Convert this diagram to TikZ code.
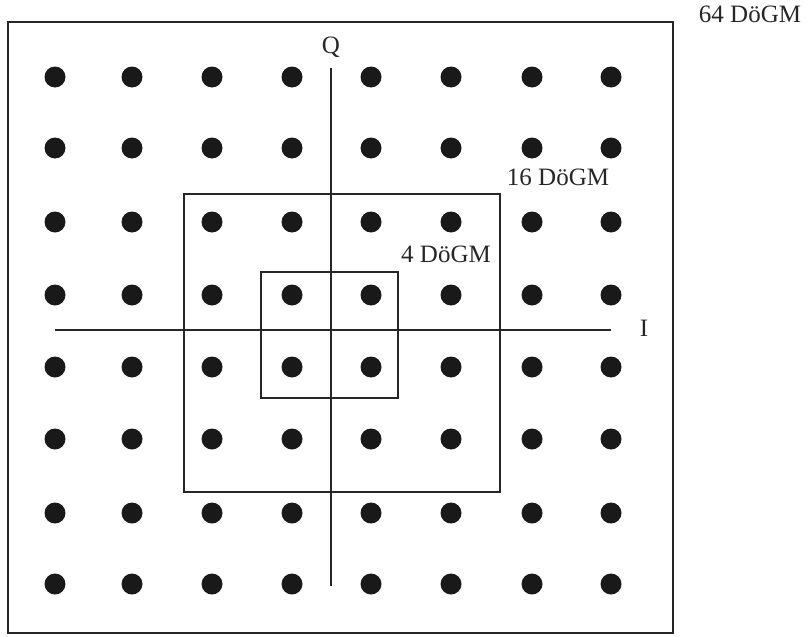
\documentclass[tikz,border=0pt]{standalone}
\usepackage{fontspec}
\setmainfont{Liberation Serif}
\begin{document}
\begin{tikzpicture}[x=1pt,y=-1pt,
  frame/.style={draw=black!85,line width=2pt},
  axis/.style={draw=black!85,line width=2pt},
  dot/.style={circle,fill=black!90,inner sep=0pt,minimum size=21pt},
  lbl/.style={inner sep=0pt,text=black!85,font=\fontsize{25}{28}\selectfont}]
\useasboundingbox (0,0) rectangle (811,637);
% boxes
\draw[frame] (8,22) rectangle (673,633);
\draw[frame] (184,194) rectangle (500,492);
\draw[frame] (261,272) rectangle (398,398);
% axes
\coordinate (qtop) at (331,68);
\coordinate (qbot) at (331,586);
\coordinate (ileft) at (55,330);
\coordinate (iright) at (611,330);
\draw[axis] (qtop) -- (qbot);
\draw[axis] (ileft) -- (iright);
% dots
\foreach \c [count=\i] in {55,132,212,292,371,451,532,611}{
  \foreach \r [count=\j] in {77,148,222,295,367,439,513,584}{
    \node[dot] (d-\i-\j) at (\c,\r) {};
  }
}
% labels
\node[lbl] (l64) at (750,14) {64 DöGM};
\node[lbl] (l16) at (558,177) {16 DöGM};
\node[lbl] (l4) at (446,254) {4 DöGM};
\node[lbl] (lq) at (331,47) {Q};
\node[lbl] (li) at (644,328) {I};
\end{tikzpicture}
\end{document}
